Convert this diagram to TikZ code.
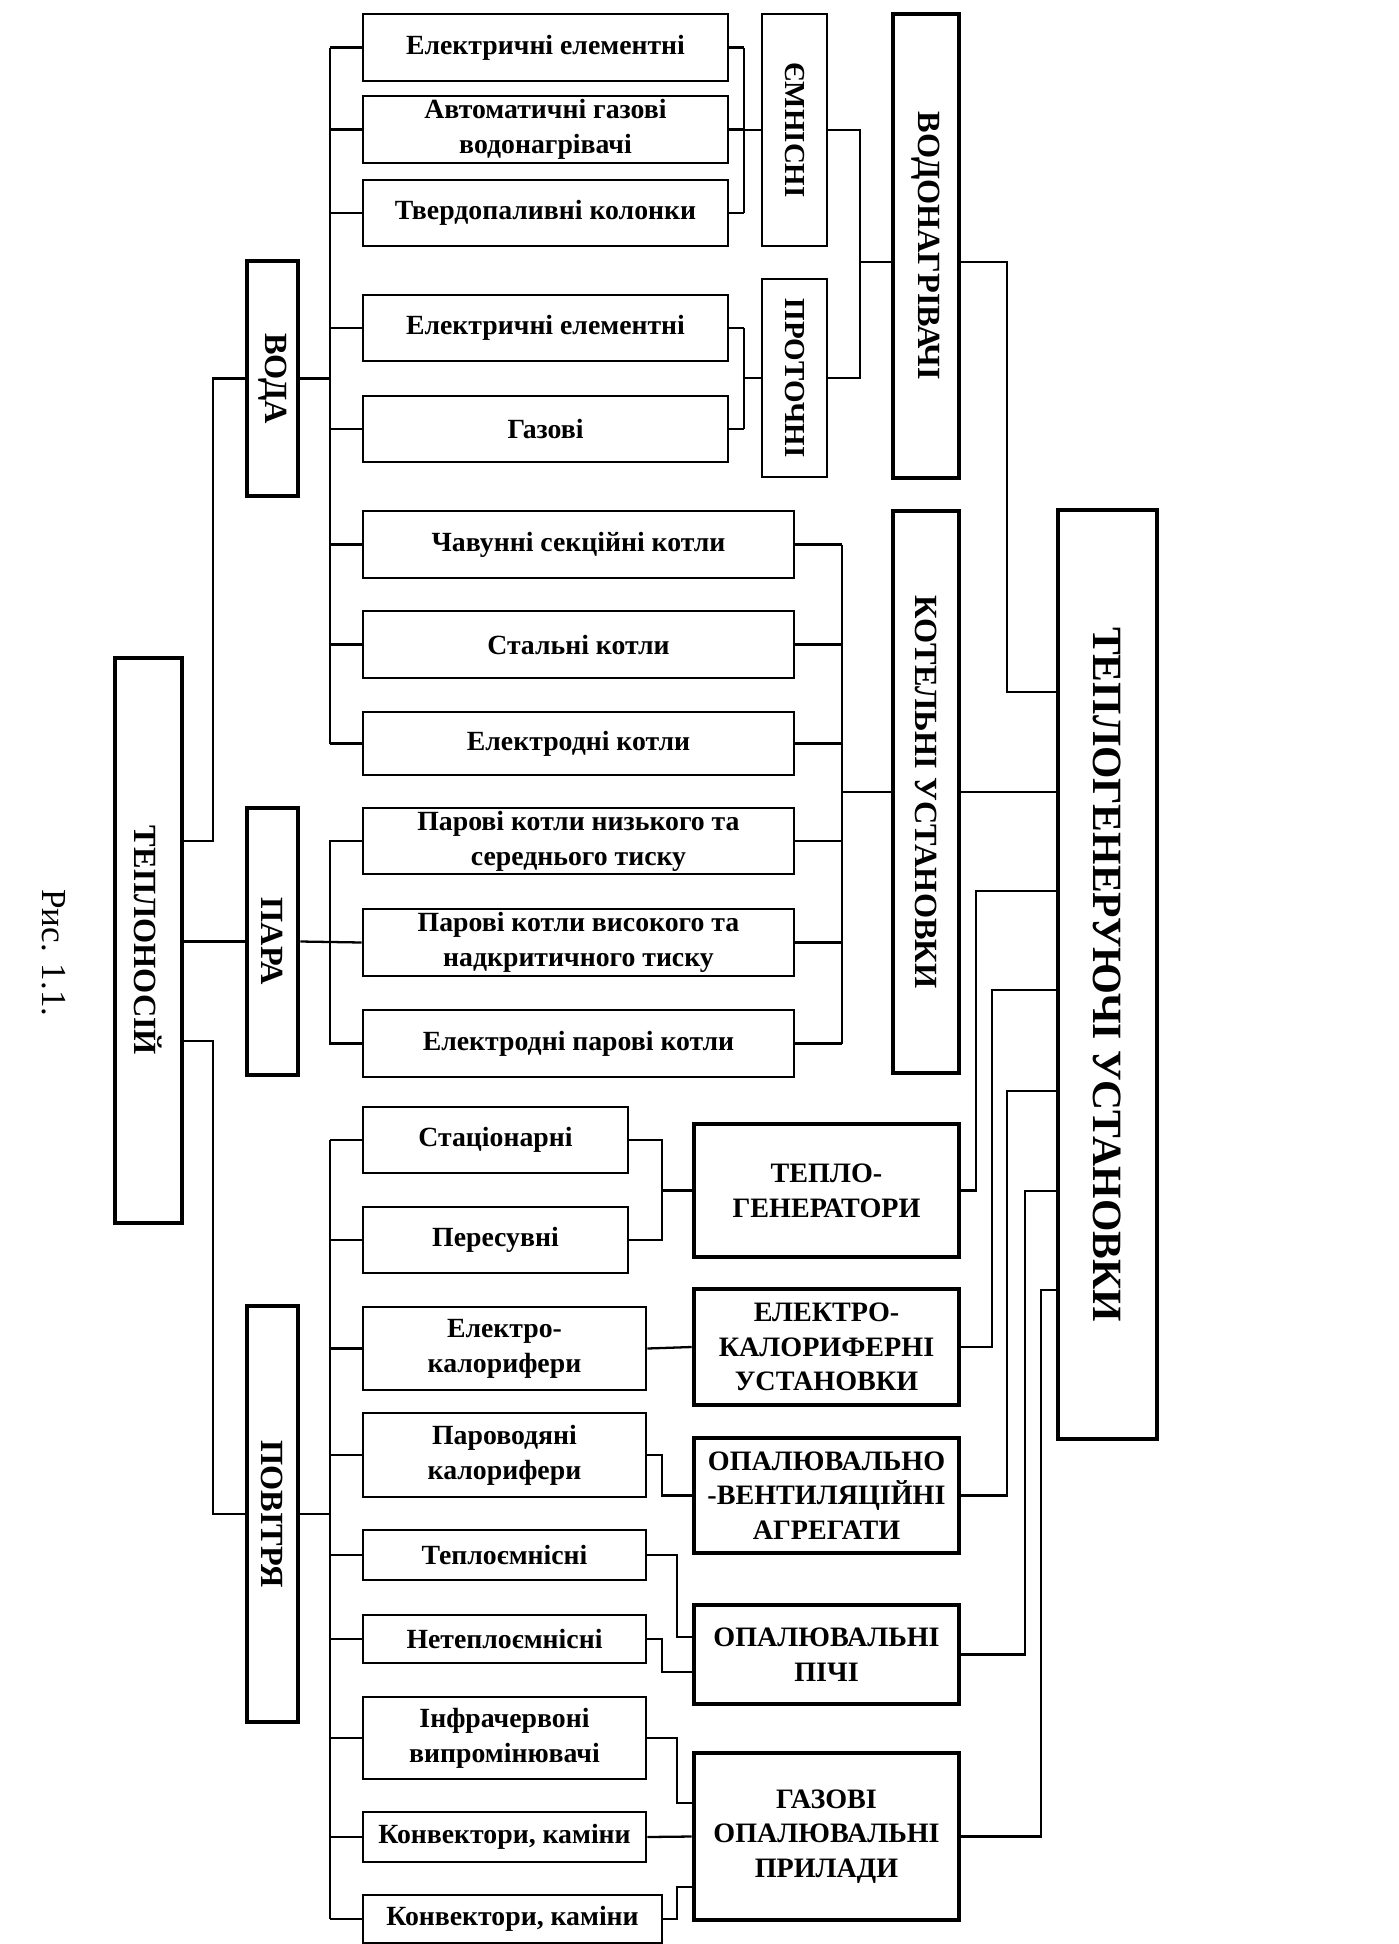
\documentclass[tikz,border=0pt]{standalone}
\usepackage{fontspec}
\setmainfont{Liberation Serif}
\usepackage{graphicx}
\usetikzlibrary{positioning}

\begin{document}
\begin{tikzpicture}[
    x=0.02cm, y=-0.02cm,
    wh/.style 2 args={minimum width=#1*0.02cm, minimum height=#2*0.02cm},
    item/.style={rectangle, draw, line width=1.5pt, inner sep=0pt, align=center,
      font=\fontsize{15.8}{19.8}\selectfont\bfseries},
    group/.style={rectangle, draw, line width=2.6pt, inner sep=0pt, align=center,
      font=\fontsize{16}{19.8}\selectfont\bfseries},
    kind/.style={rectangle, draw, line width=1.5pt, inner sep=0pt,
      font=\fontsize{16.5}{18}\selectfont\bfseries},
    carrier/.style={rectangle, draw, line width=2.6pt, inner sep=0pt,
      font=\fontsize{18.4}{20}\selectfont\bfseries},
    link/.style={line width=1.3pt}
  ]
    \useasboundingbox (0,0) rectangle (1399,1944);

    % carriers
    \node[carrier, wh={67}{565}] (teplonos) at (148.5,940.5) {\rotatebox{-90}{ТЕПЛОНОСІЙ}};
    \node[carrier, wh={51}{235}] (voda) at (272.5,378.5) {\rotatebox{-90}{ВОДА}};
    \node[carrier, wh={51}{267}] (para) at (272.5,941.5) {\rotatebox{-90}{ПАРА}};
    \node[carrier, wh={51}{416}] (povitrya) at (272.5,1514) {\rotatebox{-90}{ПОВІТРЯ}};
    \node[rotate=-90, font=\fontsize{20}{24}\selectfont] (caption) at (53.5,953) {Рис. 1.1.};

    % water heaters
    \node[item, wh={365}{67}] (w1) at (545.5,47.5) {Електричні елементні};
    \node[item, wh={365}{67}] (w2) at (545.5,129.5) {Автоматичні газові\\водонагрівачі};
    \node[item, wh={365}{66}] (w3) at (545.5,213) {Твердопаливні колонки};
    \node[item, wh={365}{66}] (w4) at (545.5,328) {Електричні елементні};
    \node[item, wh={365}{66}] (w5) at (545.5,429) {Газові};
    \node[kind, wh={65}{232}] (emn) at (794.5,130) {\rotatebox{-90}{ЄМНІСНІ}};
    \node[kind, wh={65}{198}] (prot) at (794.5,378) {\rotatebox{-90}{ПРОТОЧНІ}};
    \node[carrier, wh={66}{464}] (vodon) at (926,246) {\rotatebox{-90}{ВОДОНАГРІВАЧІ}};

    % boilers
    \node[item, wh={431}{67}] (k1) at (578.5,544.5) {Чавунні секційні котли};
    \node[item, wh={431}{67}] (k2) at (578.5,644.5) {Стальні котли};
    \node[item, wh={431}{63}] (k3) at (578.5,743.5) {Електродні котли};
    \node[item, wh={431}{66}] (k4) at (578.5,841) {Парові котли низького та\\середнього тиску};
    \node[item, wh={431}{67}] (k5) at (578.5,942.5) {Парові котли високого та\\надкритичного тиску};
    \node[item, wh={431}{67}] (k6) at (578.5,1043.5) {Електродні парові котли};
    \node[carrier, wh={66}{562}] (kotel) at (926,792) {\rotatebox{-90}{КОТЕЛЬНІ УСТАНОВКИ}};

    % air heaters
    \node[item, wh={265}{66}] (a1) at (495.5,1140) {Стаціонарні};
    \node[item, wh={265}{66}] (a2) at (495.5,1240) {Пересувні};
    \node[item, wh={283}{83}] (a3) at (504.5,1348.5) {Електро-\\калорифери};
    \node[item, wh={283}{84}] (a4) at (504.5,1455) {Пароводяні\\калорифери};
    \node[item, wh={283}{50}] (a5) at (504.5,1555) {Теплоємнісні};
    \node[item, wh={283}{48}] (a6) at (504.5,1639) {Нетеплоємнісні};
    \node[item, wh={283}{82}] (a7) at (504.5,1738) {Інфрачервоні\\випромінювачі};
    \node[item, wh={283}{50}] (a8) at (504.5,1837) {Конвектори, каміни};
    \node[item, wh={299}{48}] (a9) at (512.5,1919) {Конвектори, каміни};

    \node[group, wh={265}{133}] (tg) at (826.5,1190.5) {ТЕПЛО-\\ГЕНЕРАТОРИ};
    \node[group, wh={265}{116}] (ek) at (826.5,1347) {ЕЛЕКТРО-\\КАЛОРИФЕРНІ\\УСТАНОВКИ};
    \node[group, wh={265}{115}] (ov) at (826.5,1495.5) {ОПАЛЮВАЛЬНО\\-ВЕНТИЛЯЦІЙНІ\\АГРЕГАТИ};
    \node[group, wh={265}{99}] (op) at (826.5,1654.5) {ОПАЛЮВАЛЬНІ\\ПІЧІ};
    \node[group, wh={265}{167}] (go) at (826.5,1836.5) {ГАЗОВІ\\ОПАЛЮВАЛЬНІ\\ПРИЛАДИ};

    \node[carrier, wh={99}{929}, font=\fontsize{23.7}{26}\selectfont\bfseries] (tgu) at (1107.5,974.5)
      {\rotatebox{-90}{ТЕПЛОГЕНЕРУЮЧІ УСТАНОВКИ}};

    % carriers to groups
    \draw[link] (teplonos.east |- 0,841) -- (213,841) |- (voda.west);
    \draw[link] (teplonos.east |- para.west) -- (para.west);
    \draw[link] (teplonos.east |- 0,1041) -- (213,1041) |- (povitrya.west);

    \draw[link] (voda.east) -- (voda.east -| 330,0);
    \draw[link] (w1.west -| 330,0) -- (k3.west -| 330,0);
    \foreach \n in {w1,w2,w3,w4,w5,k1,k2,k3}
      \draw[link] (\n.west) -- (\n.west -| 330,0);

    \draw[link] (para.east) -- (k5.west);
    \draw[link] (k4.west) -| (330,0 |- k6.west) -- (k6.west);

    \draw[link] (povitrya.east) -- (povitrya.east -| 330,0);
    \draw[link] (a1.west -| 330,0) -- (a9.west -| 330,0);
    \foreach \n in {a1,a2,a3,a4,a5,a6,a7,a8,a9}
      \draw[link] (\n.west) -- (\n.west -| 330,0);

    % water heaters
    \foreach \n in {w1,w2,w3,w4,w5}
      \draw[link] (\n.east) -- (\n.east -| 744,0);
    \draw[link] (w1.east -| 744,0) -- (w3.east -| 744,0);
    \draw[link] (w4.east -| 744,0) -- (w5.east -| 744,0);
    \draw[link] (emn.west -| 744,0) -- (emn.west);
    \draw[link] (prot.west -| 744,0) -- (prot.west);
    \draw[link] (emn.east) -- (emn.east -| 860,0) -- (prot.east -| 860,0) -- (prot.east);
    \draw[link] (860,262) -- (vodon.west |- 0,262);
    \draw[link] (vodon.east |- 0,262) -- (1007,262) |- (tgu.west |- 0,692);

    % boilers
    \foreach \n in {k1,k2,k3,k4,k5,k6}
      \draw[link] (\n.east) -- (\n.east -| 842,0);
    \draw[link] (k1.east -| 842,0) -- (k6.east -| 842,0);
    \draw[link] (kotel.west -| 842,0) -- (kotel.west);
    \draw[link] (kotel.east) -- (kotel.east -| tgu.west);

    % air heaters
    \draw[link] (a1.east) -- (a1.east -| 662,0) -- (a2.east -| 662,0) -- (a2.east);
    \draw[link] (tg.west -| 662,0) -- (tg.west);
    \draw[link] (a3.east) -- (ek.west);
    \draw[link] (a4.east) -- (a4.east -| 662,0) |- (ov.west);
    \draw[link] (a5.east) -- (a5.east -| 677,0) |- (op.west |- 0,1637);
    \draw[link] (a6.east) -- (a6.east -| 662,0) |- (op.west |- 0,1672);
    \draw[link] (a7.east) -- (a7.east -| 677,0) |- (go.west |- 0,1803);
    \draw[link] (a8.east) -- (go.west);
    \draw[link] (a9.east) -- (a9.east -| 677,0) |- (go.west |- 0,1887);

    % groups to heat generating units
    \draw[link] (tg.east) -- (tg.east -| 976,0) |- (tgu.west |- 0,891);
    \draw[link] (ek.east) -- (ek.east -| 992,0) |- (tgu.west |- 0,990);
    \draw[link] (ov.east) -- (ov.east -| 1007,0) |- (tgu.west |- 0,1091);
    \draw[link] (op.east) -- (op.east -| 1025,0) |- (tgu.west |- 0,1191);
    \draw[link] (go.east) -- (go.east -| 1041,0) |- (tgu.west |- 0,1290);
\end{tikzpicture}
\end{document}
